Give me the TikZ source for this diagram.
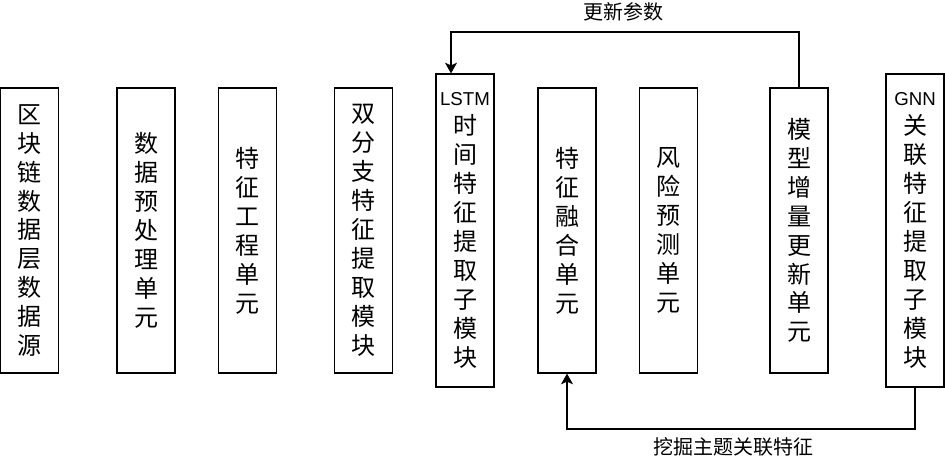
\documentclass[tikz,border=0pt]{standalone}
\usepackage{fontspec}
\setmainfont{Liberation Sans}
\newfontfamily\cjk{Noto Sans CJK SC}
\usetikzlibrary{arrows.meta}
\tikzset{
  box/.style={draw, line width=0.9pt, minimum width=43.5pt, minimum height=213.75pt, inner sep=0pt, align=center, font=\cjk\fontsize{18}{21.7}\selectfont},
  tallbox/.style={box, minimum height=234.75pt},
  lbl/.style={font=\cjk\fontsize{15}{18}\selectfont, inner sep=0pt},
  arr/.style={draw, line width=0.9pt, -{Stealth[length=8pt,width=9pt,inset=2pt]}}
}
\newcommand{\latn}{\fontspec{Liberation Sans}\fontsize{14}{21.7}\selectfont}
\begin{document}
\begin{tikzpicture}[x=0.75pt,y=-0.75pt]
\useasboundingbox (0,0) rectangle (945,460);
\node[box] (b1) at (29.8,230.5) {区\\块\\链\\数\\据\\层\\数\\据\\源};
\node[box] (b2) at (146,230.5) {数\\据\\预\\处\\理\\单\\元};
\node[box] (b3) at (247.5,230.5) {特\\征\\工\\程\\单\\元};
\node[box] (b4) at (363.5,230.5) {双\\分\\支\\特\\征\\提\\取\\模\\块};
\node[tallbox] (b5) at (465,230.5) {{\latn LSTM}\\时\\间\\特\\征\\提\\取\\子\\模\\块};
\node[box] (b6) at (567,230.5) {特\\征\\融\\合\\单\\元};
\node[box] (b7) at (668.5,230.5) {风\\险\\预\\测\\单\\元};
\node[box] (b8) at (799,230.5) {模\\型\\增\\量\\更\\新\\单\\元};
\node[tallbox] (b9) at (915,230.5) {{\latn GNN}\\关\\联\\特\\征\\提\\取\\子\\模\\块};
\coordinate (u) at (451,32);
\coordinate (v) at (567,429);
\draw[arr] (b8.north) |- (u) -- (u |- b5.north);
\draw[arr] (b9.south) |- (v) -- (b6.south);
\node[lbl] (l1) at (623,12) {更新参数};
\node[lbl] (l2) at (733,447) {挖掘主题关联特征};
\end{tikzpicture}
\end{document}
